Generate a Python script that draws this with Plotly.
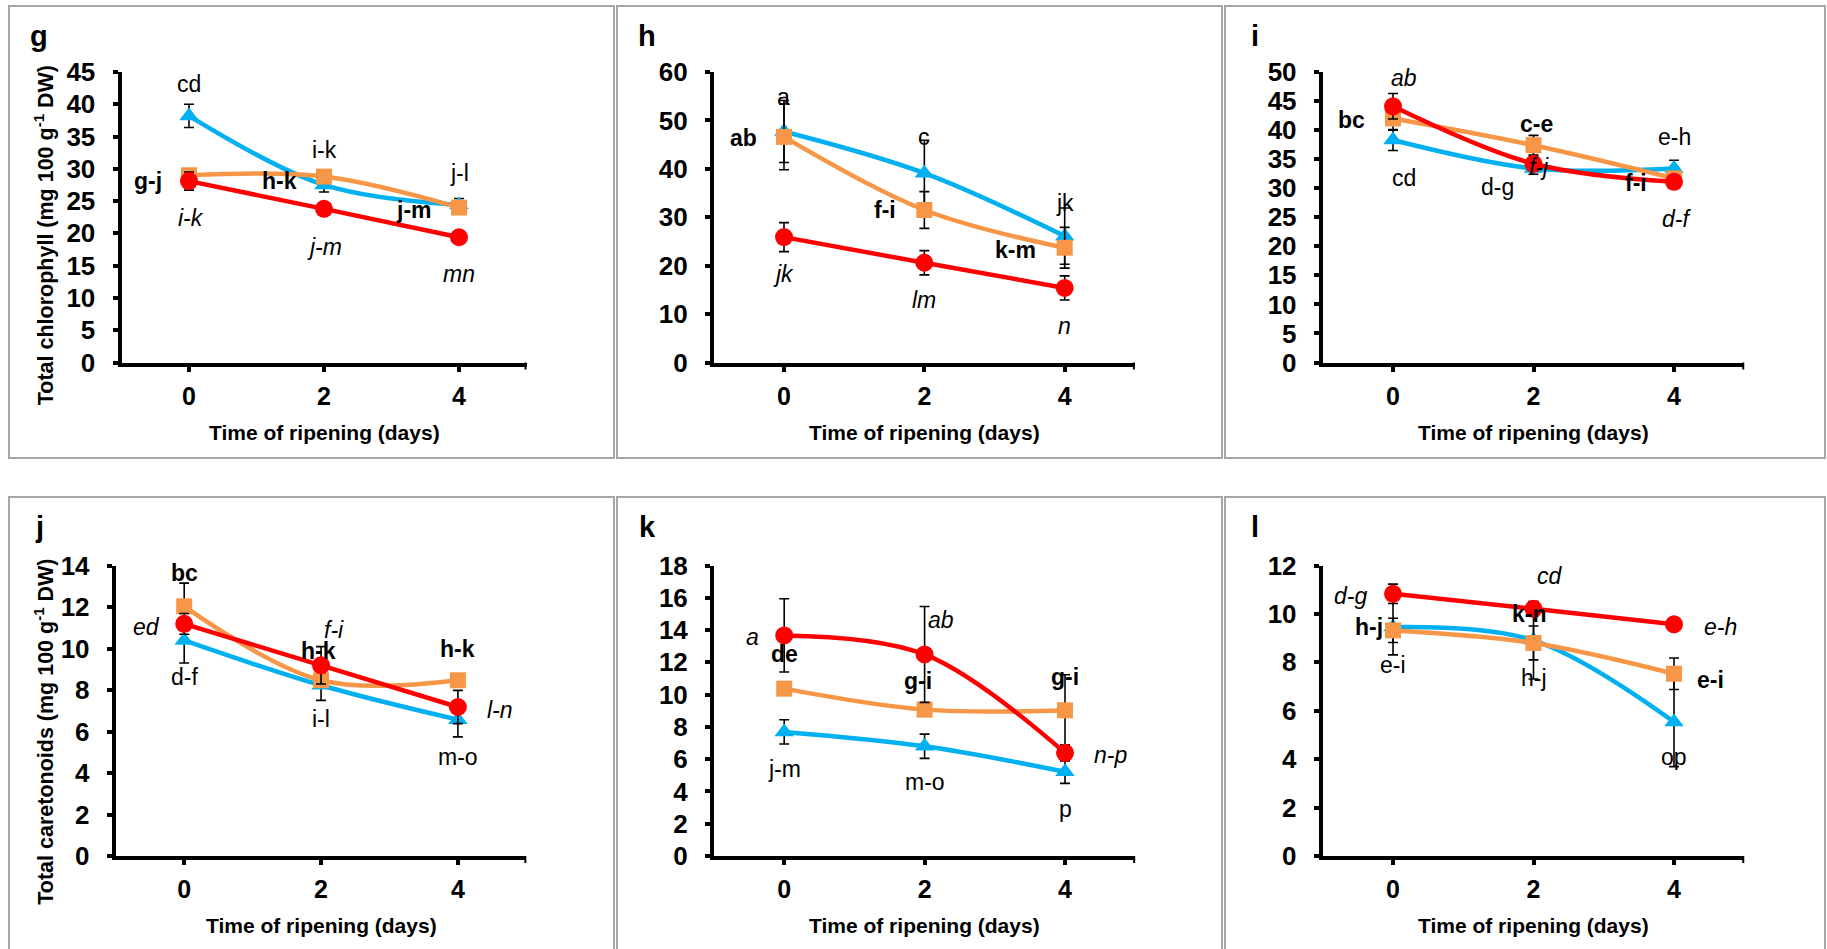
import plotly.graph_objects as go

days = [0, 2, 4]
x_tick_vals = [0, 2, 4]
x_tick_text = ["0", "2", "4"]

series_names = ["blue", "orange", "red"]

# ---------------- panel g : total chlorophyll ----------------
g_blue = [38.2, 27.5, 24.4]
g_blue_err = [1.8, 1.1, 1.0]
g_orange = [29.0, 28.8, 24.0]
g_orange_err = [1.0, 1.0, 0.8]
g_red = [28.1, 23.8, 19.4]
g_red_err = [1.4, 0.8, 0.8]
g_blue_lbl = ["cd", "i-k", "j-l"]
g_orange_lbl = ["g-j", "h-k", "j-m"]
g_red_lbl = ["i-k", "j-m", "mn"]

# ---------------- panel h ----------------
h_blue = [47.7, 39.1, 26.1]
h_blue_err = [6.4, 6.8, 5.8]
h_orange = [46.6, 31.5, 23.7]
h_orange_err = [6.8, 3.8, 4.2]
h_red = [25.9, 20.6, 15.4]
h_red_err = [3.0, 2.5, 2.5]
h_blue_lbl = ["a", "c", "jk"]
h_orange_lbl = ["ab", "f-i", "k-m"]
h_red_lbl = ["jk", "lm", "n"]

# ---------------- panel i ----------------
i_blue = [38.3, 33.4, 33.4]
i_blue_err = [1.8, 1.0, 1.4]
i_orange = [42.0, 37.4, 31.7]
i_orange_err = [2.0, 1.7, 1.0]
i_red = [44.1, 34.2, 31.1]
i_red_err = [2.2, 1.2, 1.0]
i_blue_lbl = ["cd", "d-g", "e-h"]
i_orange_lbl = ["bc", "c-e", "f-i"]
i_red_lbl = ["ab", "f-j", "d-f"]

# ---------------- panel j : total carotenoids ----------------
j_blue = [10.39, 8.23, 6.57]
j_blue_err = [1.09, 0.73, 0.83]
j_orange = [12.03, 8.47, 8.47]
j_orange_err = [1.12, 0.3, 0.3]
j_red = [11.19, 9.19, 7.18]
j_red_err = [0.5, 0.9, 0.8]
j_blue_lbl = ["d-f", "i-l", "m-o"]
j_orange_lbl = ["bc", "h-k", "h-k"]
j_red_lbl = ["ed", "f-i", "l-n"]

# ---------------- panel k ----------------
k_blue = [7.69, 6.80, 5.22]
k_blue_err = [0.75, 0.75, 0.72]
k_orange = [10.37, 9.07, 9.03]
k_orange_err = [0.3, 0.3, 2.2]
k_red = [13.67, 12.49, 6.39]
k_red_err = [2.27, 2.97, 0.5]
k_blue_lbl = ["j-m", "m-o", "p"]
k_orange_lbl = ["de", "g-i", "g-i"]
k_red_lbl = ["a", "ab", "n-p"]

# ---------------- panel l ----------------
l_blue = [9.46, 8.91, 5.54]
l_blue_err = [1.15, 1.6, 1.85]
l_orange = [9.32, 8.80, 7.53]
l_orange_err = [0.5, 0.7, 0.65]
l_red = [10.83, 10.21, 9.57]
l_red_err = [0.4, 0.3, 0.2]
l_blue_lbl = ["e-i", "h-j", "op"]
l_orange_lbl = ["h-j", "k-n", "e-i"]
l_red_lbl = ["d-g", "cd", "e-h"]

panel_letters = ["g", "h", "i", "j", "k", "l"]
y_titles = ["Total chlorophyll (mg 100 g<sup>-1</sup> DW)", "",
            "", "Total caretonoids (mg 100 g<sup>-1</sup> DW)", "", ""]
x_title = "Time of ripening (days)"
y_max = [45, 60, 50, 14, 18, 12]
y_dtick = [5, 10, 5, 2, 2, 2]

# ------------- styles / layout geometry (pixels, not data) -------------
W, H = 1827, 949
colors = {"blue": "#00B0F0", "orange": "#F79646", "red": "#FF0000"}
symbols = {"blue": "triangle-up", "orange": "square", "red": "circle"}
msize = {"blue": 17, "orange": 16, "red": 18}
lab_style = {"blue": ("", ""), "orange": ("<b>", "</b>"), "red": ("<i>", "</i>")}
FONT = "Liberation Sans"

# per panel: pixel x of day 0, pixel x of day 4, y-axis top px, y-axis bottom px
geo = [
    (189.0, 459.0, 72.0, 362.5),
    (784.0, 1064.7, 72.0, 362.5),
    (1393.0, 1674.0, 72.0, 362.5),
    (184.2, 457.9, 565.5, 856.0),
    (784.2, 1065.0, 565.5, 856.0),
    (1393.0, 1674.0, 565.5, 856.0),
]
ytitle_shift = [18, 0, 0, 21, 0, 0]
# panel frames (px)
frames = [(9, 6, 614, 458), (617, 6, 1222, 458), (1225, 6, 1825, 458),
          (9, 497, 614, 965), (617, 497, 1222, 965), (1225, 497, 1825, 965)]

# label pixel offsets (dx, dy) from their point, per panel, per series, per day
offsets = [
    {"blue": [(0, 32), (0, 35), (0, 32)],
     "orange": [(-41, -6), (-45, -4), (-45, -2)],
     "red": [(2, -37), (0, -38), (0, -37)]},
    {"blue": [(0, 35), (0, 36), (0, 33)],
     "orange": [(-40, -1), (-39, 0), (-49, -2)],
     "red": [(0, -37), (0, -37), (0, -38)]},
    {"blue": [(11, -38), (-36, -19), (0, 31)],
     "orange": [(-42, -2), (3, 21), (-38, -5)],
     "red": [(11, 28), (5, -3), (2, -37)]},
    {"blue": [(0, -37), (0, -34), (0, -37)],
     "orange": [(0, 33), (-3, 29), (0, 31)],
     "red": [(-38, -3), (13, 35), (42, -3)]},
    {"blue": [(0, -37), (0, -36), (0, -37)],
     "orange": [(0, 35), (-7, 29), (0, 33)],
     "red": [(-32, -2), (16, 34), (45, -2)]},
    {"blue": [(0, -38), (0, -38), (0, -35)],
     "orange": [(-24, 3), (-4, 29), (36, -6)],
     "red": [(-43, -2), (16, 33), (46, -3)]},
]

panels = [
    {"blue": (g_blue, g_blue_err, g_blue_lbl), "orange": (g_orange, g_orange_err, g_orange_lbl), "red": (g_red, g_red_err, g_red_lbl)},
    {"blue": (h_blue, h_blue_err, h_blue_lbl), "orange": (h_orange, h_orange_err, h_orange_lbl), "red": (h_red, h_red_err, h_red_lbl)},
    {"blue": (i_blue, i_blue_err, i_blue_lbl), "orange": (i_orange, i_orange_err, i_orange_lbl), "red": (i_red, i_red_err, i_red_lbl)},
    {"blue": (j_blue, j_blue_err, j_blue_lbl), "orange": (j_orange, j_orange_err, j_orange_lbl), "red": (j_red, j_red_err, j_red_lbl)},
    {"blue": (k_blue, k_blue_err, k_blue_lbl), "orange": (k_orange, k_orange_err, k_orange_lbl), "red": (k_red, k_red_err, k_red_lbl)},
    {"blue": (l_blue, l_blue_err, l_blue_lbl), "orange": (l_orange, l_orange_err, l_orange_lbl), "red": (l_red, l_red_err, l_red_lbl)},
]

fig = go.Figure()
annotations = []
shapes = []
layout = {}

for p in range(6):
    n = "" if p == 0 else str(p + 1)
    xa, ya = "x" + n, "y" + n
    t0, t4, top, bot = geo[p]
    u = (t4 - t0) / 4.0
    left, right = t0 - u, t4 + u
    fl, ft, fr, fb = frames[p]
    layout["xaxis" + n] = dict(
        domain=[left / W, right / W], range=[-1, 5], anchor=ya,
        showline=True, linecolor="black", linewidth=4,
        ticks="outside", ticklen=5, tickwidth=4, tickcolor="black",
        tickvals=x_tick_vals, ticktext=x_tick_text,
        tickfont=dict(family=FONT, size=25, color="black", weight="bold"),
        ticklabelstandoff=3, automargin=False,
        showgrid=False, zeroline=False, fixedrange=True)
    layout["yaxis" + n] = dict(
        domain=[1 - bot / H, 1 - top / H], range=[0, y_max[p]], anchor=xa,
        dtick=y_dtick[p], tick0=0,
        showline=True, linecolor="black", linewidth=4,
        ticks="outside", ticklen=5, tickwidth=4, tickcolor="black",
        tickfont=dict(family=FONT, size=26, color="black", weight="bold"),
        ticklabelstandoff=12, automargin=False,
        showgrid=False, zeroline=False, fixedrange=True)

    # tick mark at right end of x axis
    shapes.append(dict(type="line", xref=xa, yref=ya + " domain",
                       x0=5, x1=5, y0=0, y1=-7 / (bot - top),
                       line=dict(color="black", width=4)))

    for s in series_names:
        vals, err, lbls = panels[p][s]
        fig.add_trace(go.Scatter(
            x=days, y=vals, xaxis=xa, yaxis=ya, mode="lines+markers",
            line=dict(color=colors[s], width=4.5, shape="spline", smoothing=1.0),
            marker=dict(symbol=symbols[s], size=msize[s], color=colors[s], line=dict(width=0)),
            error_y=dict(type="data", array=err, symmetric=True, color="black", thickness=1.6, width=5),
            cliponaxis=False, showlegend=False, hoverinfo="x+y"))

    # data labels
    for s in series_names:
        vals, err, lbls = panels[p][s]
        for k in range(3):
            dx, dy = offsets[p][s][k]
            o, c = lab_style[s]
            annotations.append(dict(
                x=days[k], y=vals[k], xref=xa, yref=ya, text=o + lbls[k] + c,
                showarrow=False, xshift=dx, yshift=dy,
                font=dict(family=FONT, size=23, color="black")))

    # panel letter
    annotations.append(dict(
        x=(fl + 30) / W, y=1 - (ft + 30) / H, xref="paper", yref="paper",
        text="<b>" + panel_letters[p] + "</b>", showarrow=False,
        xanchor="center", yanchor="middle",
        font=dict(family=FONT, size=29, color="black")))
    # x title
    annotations.append(dict(
        x=(t0 + 2 * u) / W, y=1 - (bot + 69.5) / H, xref="paper", yref="paper",
        text="<b>" + x_title + "</b>", showarrow=False,
        xanchor="center", yanchor="middle",
        font=dict(family=FONT, size=21, color="black")))
    # y title
    if y_titles[p]:
        annotations.append(dict(
            x=44 / W, y=1 - ((top + bot) / 2 + ytitle_shift[p]) / H, xref="paper", yref="paper",
            text="<b>" + y_titles[p] + "</b>", showarrow=False, textangle=-90,
            xanchor="center", yanchor="middle",
            font=dict(family=FONT, size=21.5, color="black")))

for (x0, y0, x1, y1) in frames:
    shapes.append(dict(type="rect", xref="paper", yref="paper",
                       x0=x0 / W, x1=x1 / W, y0=1 - y0 / H, y1=1 - y1 / H,
                       line=dict(color="#A6A6A6", width=2), fillcolor="rgba(0,0,0,0)",
                       layer="below"))

fig.update_layout(
    width=W, height=H, margin=dict(l=0, r=0, t=0, b=0, pad=0),
    autosize=False,
    paper_bgcolor="white", plot_bgcolor="white",
    annotations=annotations, shapes=shapes, showlegend=False,
    font=dict(family=FONT, color="black"),
    **layout)

fig.write_html("out.html", config={"displayModeBar": False})
